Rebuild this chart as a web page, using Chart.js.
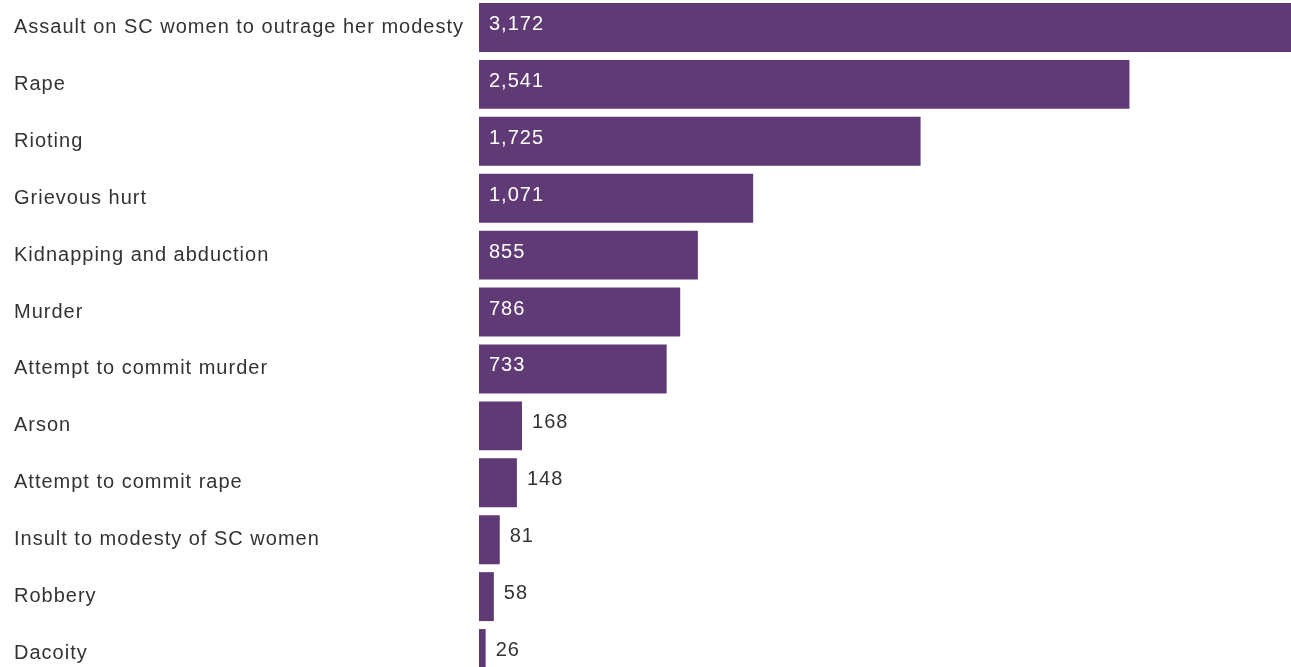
<!DOCTYPE html>
<html>
<head>
<meta charset="utf-8">
<script src="https://cdn.jsdelivr.net/npm/chart.js@4"></script>
<style>
  html, body { margin: 0; padding: 0; background: #fff; overflow: hidden; }
  #wrap { position: absolute; left: 0; top: -13px; width: 1291px; height: 707px; }
</style>
</head>
<body>
<div id="wrap"><canvas id="crimeChart"></canvas></div>
<script>
// Crimes against SC, by category
const categories = [
    'Assault on SC women to outrage her modesty',
    'Rape',
    'Rioting',
    'Grievous hurt',
    'Kidnapping and abduction',
    'Murder',
    'Attempt to commit murder',
    'Arson',
    'Attempt to commit rape',
    'Insult to modesty of SC women',
    'Robbery',
    'Dacoity'
];
const cases = [3172, 2541, 1725, 1071, 855, 786, 733, 168, 148, 81, 58, 26];

const BAR_COLOR = '#603a75';
const TEXT_COLOR = '#333333';
const FONT = '"Liberation Sans", Arial, sans-serif';
const FONT_SIZE = 20;

// Slightly wider text, like the original
const wideText = {
    id: 'wideText',
    beforeDraw(chart) {
        chart.ctx.letterSpacing = '1px';
    }
};

// Draw the value inside big bars, after small ones
const valueLabels = {
    id: 'valueLabels',
    afterDatasetsDraw(chart) {
        const ctx = chart.ctx;
        const meta = chart.getDatasetMeta(0);
        ctx.save();
        ctx.font = FONT_SIZE + 'px ' + FONT;
        ctx.textBaseline = 'middle';
        ctx.textAlign = 'left';
        meta.data.forEach((bar, i) => {
            const text = cases[i].toLocaleString('en-US');
            const width = bar.x - bar.base;
            if (width > 80) {
                ctx.fillStyle = '#ffffff';
                ctx.fillText(text, bar.base + 10, bar.y - 3);
            } else {
                ctx.fillStyle = TEXT_COLOR;
                ctx.fillText(text, bar.x + 10, bar.y - 3);
            }
        });
        ctx.restore();
    }
};

document.addEventListener('DOMContentLoaded', () => {
    const ctx = document.getElementById('crimeChart').getContext('2d');
    new Chart(ctx, {
        type: 'bar',
        data: {
            labels: categories,
            datasets: [{
                data: cases,
                backgroundColor: BAR_COLOR,
                borderWidth: 0,
                categoryPercentage: 0.86,
                barPercentage: 1.0
            }]
        },
        options: {
            indexAxis: 'y',
            responsive: true,
            maintainAspectRatio: false,
            animation: false,
            layout: { padding: { left: 14, right: 0, top: 0, bottom: 0 } },
            scales: {
                x: {
                    display: false,
                    min: 0,
                    max: 3172
                },
                y: {
                    afterFit: scale => { scale.width = 465; },
                    grid: { display: false },
                    border: { display: false },
                    ticks: {
                        crossAlign: 'far',
                        color: TEXT_COLOR,
                        padding: 0,
                        font: { size: FONT_SIZE, family: FONT }
                    }
                }
            },
            plugins: {
                legend: { display: false },
                tooltip: { enabled: false }
            }
        },
        plugins: [wideText, valueLabels]
    });
});
</script>
</body>
</html>
